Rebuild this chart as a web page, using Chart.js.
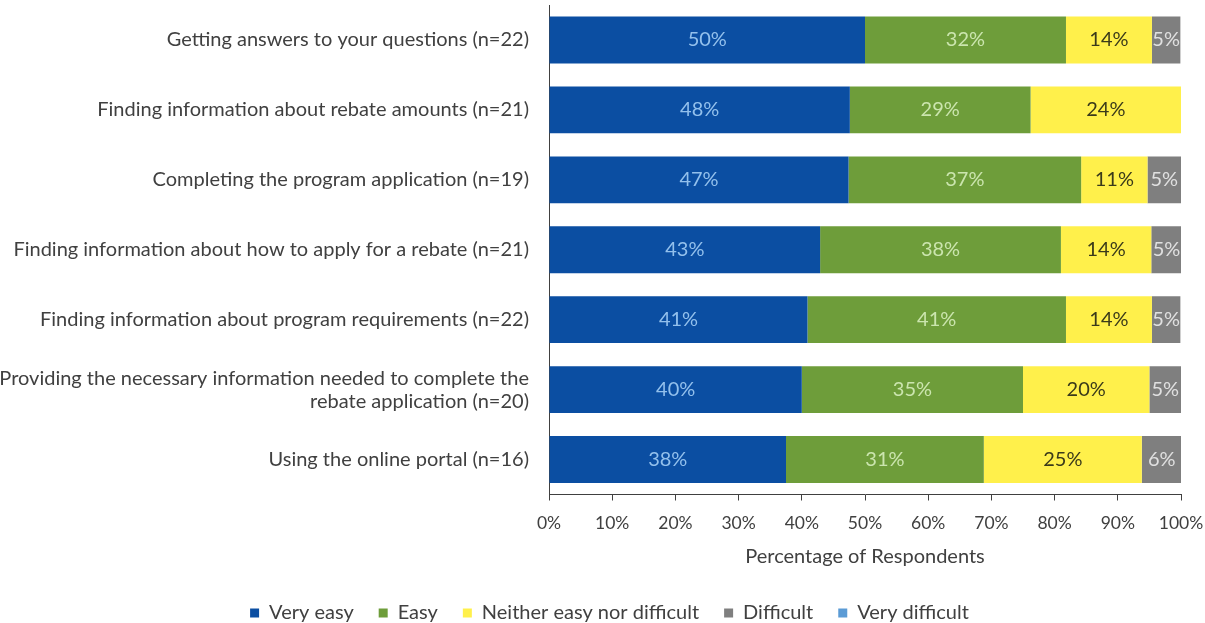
<!DOCTYPE html>
<html lang="en">
<head>
    <meta charset="UTF-8">
    <title>Ease of program tasks</title>
    <script src="https://cdn.jsdelivr.net/npm/chart.js"></script>
    <style>
        body { margin: 0; background: #fff; }
    </style>
</head>
<body>

    <canvas id="easeChart" width="1205" height="623"></canvas>

    <script>
        const categories = [
            'Getting answers to your questions (n=22)',
            'Finding information about rebate amounts (n=21)',
            'Completing the program application (n=19)',
            'Finding information about how to apply for a rebate (n=21)',
            'Finding information about program requirements (n=22)',
            ['Providing the necessary information needed to complete the', 'rebate application (n=20)'],
            'Using the online portal (n=16)'
        ];
        const veryEasy = [50, 47.6, 47.4, 42.9, 40.9, 40, 37.5];
        const easy = [31.8, 28.6, 36.8, 38.1, 40.9, 35, 31.3];
        const neither = [13.6, 23.8, 10.5, 14.3, 13.6, 20, 25];
        const difficult = [4.5, 0, 5.3, 4.8, 4.5, 5, 6.3];
        const veryDifficult = [0, 0, 0, 0, 0, 0, 0];
        const tickLabels = ['0%', '10%', '20%', '30%', '40%', '50%', '60%', '70%', '80%', '90%', '100%'];

        const FONT = 'Lato';
        const TEXT = '#404040';

        // draws the rounded percentage in the middle of every segment
        const segmentLabels = {
            id: 'segmentLabels',
            afterDatasetsDraw(chart) {
                const ctx = chart.ctx;
                ctx.save();
                ctx.font = '20px "' + FONT + '"';
                ctx.textAlign = 'center';
                ctx.textBaseline = 'middle';
                chart.data.datasets.forEach((ds, i) => {
                    const meta = chart.getDatasetMeta(i);
                    meta.data.forEach((bar, j) => {
                        const v = ds.data[j];
                        if (!v) return;
                        ctx.fillStyle = ds.labelColor;
                        ctx.fillText(Math.round(v) + '%', (bar.x + bar.base) / 2, bar.y);
                    });
                });
                ctx.restore();
            }
        };

        // legend in the original sits a bit right of the canvas centre
        const legendShift = {
            id: 'legendShift',
            afterLayout(chart) {
                chart.legend.left += 19;
                chart.legend.right += 19;
            }
        };

        const ctx = document.getElementById('easeChart').getContext('2d');
        new Chart(ctx, {
            type: 'bar',
            data: {
                labels: categories,
                datasets: [
                    { label: 'Very easy', data: veryEasy, backgroundColor: '#0B4EA2', labelColor: '#93C0EC' },
                    { label: 'Easy', data: easy, backgroundColor: '#6E9D3A', labelColor: '#CBE5AE' },
                    { label: 'Neither easy nor difficult', data: neither, backgroundColor: '#FFF04B', labelColor: '#3A3A1A' },
                    { label: 'Difficult', data: difficult, backgroundColor: '#7F7F7F', labelColor: '#E0E0E0' },
                    { label: 'Very difficult', data: veryDifficult, backgroundColor: '#5B9BD5', labelColor: '#FFFFFF' }
                ]
            },
            options: {
                indexAxis: 'y',
                responsive: false,
                animation: false,
                datasets: { bar: { categoryPercentage: 1, barPercentage: 0.67 } },
                layout: { padding: { top: 5, right: 24, left: 0, bottom: -10 } },
                scales: {
                    x: {
                        stacked: true,
                        min: 0,
                        max: 100,
                        afterBuildTicks(scale) {
                            scale.ticks = tickLabels.map((t, i) => ({ value: i * 10 }));
                        },
                        afterFit(scale) {
                            scale.paddingLeft = 0;
                            scale.paddingRight = 0;
                        },
                        ticks: {
                            callback: (v, i) => tickLabels[i],
                            color: TEXT,
                            font: { family: FONT, size: 17.5 },
                            padding: 12.5,
                            maxRotation: 0
                        },
                        grid: { drawOnChartArea: false, tickLength: 6, color: '#404040' },
                        border: { color: '#404040', width: 1 },
                        title: {
                            display: true,
                            text: 'Percentage of Respondents',
                            color: TEXT,
                            font: { family: FONT, size: 20 },
                            padding: { top: -1.5, bottom: 9 }
                        }
                    },
                    y: {
                        stacked: true,
                        afterFit(scale) {
                            scale.width = 549;
                            scale.paddingTop = 0;
                            scale.paddingBottom = 0;
                        },
                        ticks: {
                            color: TEXT,
                            font: { family: FONT, size: 20, lineHeight: 1.15 },
                            padding: 0
                        },
                        grid: { drawOnChartArea: false, tickLength: 20, tickColor: 'rgba(0,0,0,0)' },
                        border: { display: true, color: '#404040', width: 1 }
                    }
                },
                plugins: {
                    legend: {
                        position: 'bottom',
                        labels: {
                            boxWidth: 9,
                            boxHeight: 9,
                            padding: 25,
                            color: TEXT,
                            font: { family: FONT, size: 20 }
                        }
                    },
                    tooltip: { enabled: false }
                }
            },
            plugins: [segmentLabels, legendShift]
        });
    </script>
</body>
</html>
